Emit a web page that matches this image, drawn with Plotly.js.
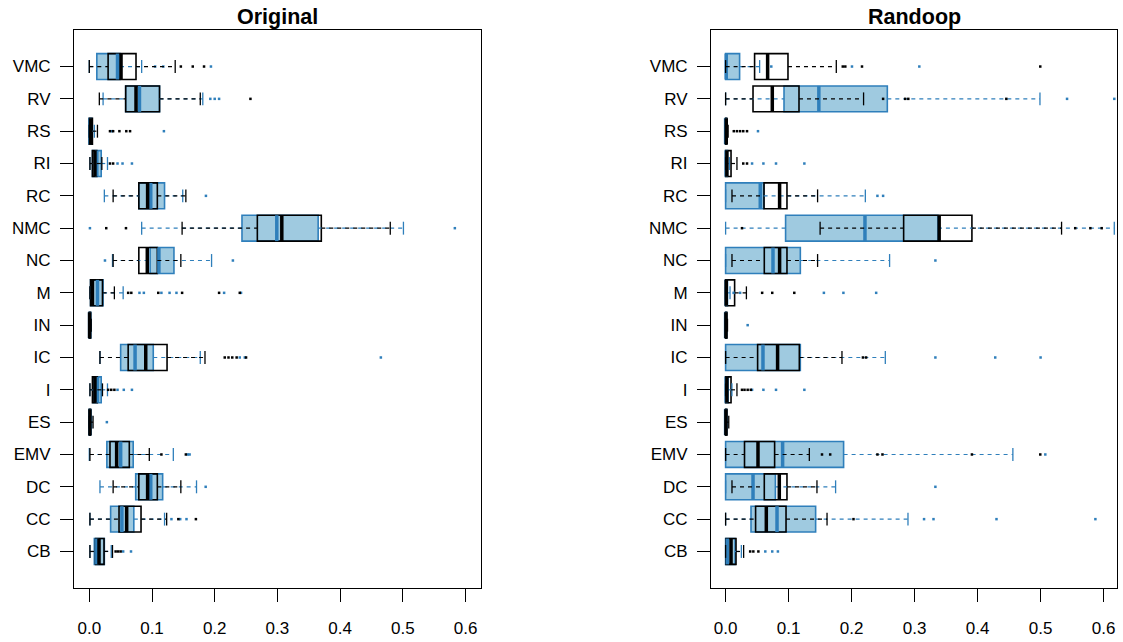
<!DOCTYPE html>
<html><head><meta charset="utf-8">
<script src="https://cdn.plot.ly/plotly-3.0.1.min.js"></script>
<style>html,body{margin:0;padding:0;background:#fff}</style>
</head><body><div id="chart" style="width:1123px;height:642px"></div>
<script>
// Categories, bottom to top
const categories = ["CB","CC","DC","EMV","ES","I","IC","IN","M","NC","NMC","RC","RI","RS","RV","VMC"];
const xTickVals = [0,0.1,0.2,0.3,0.4,0.5,0.6];
const xTickText = ["0.0","0.1","0.2","0.3","0.4","0.5","0.6"];
const panelTitles = ["Original","Randoop"];

// ---------- Original: blue group ----------
const origBlueLo  = [0.001,0.001,0.017,0.000,0.000,0.001,0.017,0.000,0.001,0.037,0.0835,0.024,0.001,0.000,0.022,0.000];
const origBlueQ1  = [0.008,0.034,0.074,0.028,0.000,0.006,0.050,0.000,0.002,0.097,0.2435,0.079,0.005,0.000,0.058,0.012];
const origBlueMed = [0.012,0.052,0.098,0.050,0.001,0.013,0.073,0.0005,0.013,0.111,0.299,0.098,0.012,0.001,0.080,0.045];
const origBlueQ3  = [0.024,0.071,0.117,0.070,0.002,0.019,0.102,0.002,0.022,0.135,0.365,0.120,0.019,0.004,0.112,0.049];
const origBlueHi  = [0.035,0.120,0.171,0.134,0.004,0.029,0.177,0.003,0.054,0.195,0.501,0.149,0.029,0.008,0.181,0.0835];
const origBlueOut = [[0.054,0.0665],[0.131,0.145,0.155],[0.1856],[0.157,0.160],[0.028],[0.045,0.055,0.068],[0.240,0.248,0.465],[],
  [0.080,0.087,0.115,0.128,0.139,0.215,0.242],[0.025,0.229],[0.001,0.583],[0.186],[0.045,0.053,0.068],[0.036,0.119],[0.193,0.200,0.207],[0.105,0.118,0.194]];

// ---------- Original: black group ----------
const origBlackLo  = [0.001,0.001,0.038,0.001,0.000,0.001,0.017,0.000,0.001,0.038,0.148,0.038,0.001,0.000,0.016,0.000];
const origBlackQ1  = [0.010,0.0474,0.079,0.033,0.000,0.005,0.062,0.000,0.002,0.079,0.268,0.079,0.005,0.000,0.058,0.030];
const origBlackMed = [0.0155,0.0596,0.093,0.0436,0.001,0.009,0.090,0.0005,0.005,0.0925,0.307,0.093,0.009,0.002,0.0745,0.0506];
const origBlackQ3  = [0.0235,0.0825,0.1085,0.0638,0.002,0.0128,0.124,0.002,0.021,0.1085,0.370,0.1085,0.012,0.005,0.112,0.0745];
const origBlackHi  = [0.037,0.1234,0.146,0.0957,0.006,0.021,0.1845,0.003,0.040,0.146,0.480,0.154,0.020,0.013,0.177,0.137];
const origBlackOut = [[0.042,0.046,0.050],[0.142,0.170],[],[0.115,0.154],[],[0.030,0.035,0.040],[0.216,0.222,0.228,0.235,0.250],[],
  [0.062,0.067,0.110,0.148,0.207,0.240],[],[0.027,0.0585],[],[0.033,0.038],[0.033,0.038,0.048,0.059,0.065],[0.257],[0.146,0.165,0.183]];

// ---------- Randoop: blue group ----------
const randBlueLo  = [0,0,0,0,0,0,0,0,0,0,0,0,0,0,0,0];
const randBlueQ1  = [0.000,0.0403,0.000,0.000,0.000,0.000,0.000,0.000,0.000,0.000,0.0952,0.000,0.000,0.000,0.0927,0.000];
const randBlueMed = [0.0027,0.0816,0.0435,0.0905,0.000,0.001,0.0593,0.000,0.001,0.0752,0.2212,0.055,0.001,0.000,0.148,0.001];
const randBlueQ3  = [0.015,0.1429,0.079,0.1873,0.001,0.004,0.1186,0.001,0.003,0.1186,0.337,0.0603,0.003,0.001,0.2567,0.0222];
const randBlueHi  = [0.025,0.2895,0.1746,0.456,0.002,0.010,0.2535,0.002,0.007,0.2603,0.617,0.2218,0.006,0.002,0.499,0.054];
const randBlueOut = [[0.063,0.074,0.083],[0.315,0.330,0.430,0.587],[0.333],[0.5075],[],[0.042,0.060,0.080,0.125],[0.333,0.428,0.500],[0.035],
  [0.0127,0.023,0.156,0.187,0.239],[0.333],[],[0.241,0.250],[0.042,0.060,0.080,0.125],[0.0514],[0.542,0.617],[0.0725,0.2006,0.3075]];

// ---------- Randoop: black group ----------
const randBlackLo  = [0.000,0.000,0.0101,0.000,0,0,0,0,0,0.0101,0.150,0.0101,0,0,0,0];
const randBlackQ1  = [0.0006,0.0476,0.0614,0.030,0.000,0.000,0.0508,0.000,0.000,0.0614,0.2826,0.061,0.000,0.000,0.0435,0.046];
const randBlackMed = [0.0086,0.0646,0.0852,0.0514,0.0005,0.002,0.0825,0.0005,0.001,0.0857,0.339,0.0857,0.002,0.001,0.0741,0.0667];
const randBlackQ3  = [0.0165,0.0959,0.0974,0.0778,0.002,0.0086,0.117,0.002,0.0143,0.0974,0.391,0.0974,0.0086,0.002,0.1165,0.099];
const randBlackHi  = [0.0286,0.161,0.145,0.1329,0.005,0.018,0.1847,0.003,0.033,0.146,0.5333,0.146,0.018,0.004,0.219,0.1757];
const randBlackOut = [[0.039,0.044,0.052],[0.203],[],[0.153,0.166,0.241,0.249,0.391,0.4995],[],[0.026,0.030,0.035,0.040],[0.218,0.223],[],
  [0.058,0.074,0.109],[],[0.026,0.555,0.579,0.597],[],[0.028,0.034],[0.013,0.018,0.023,0.028,0.034],[0.250,0.285,0.290,0.4456],[0.186,0.190,0.2165,0.4995]];

// ---------- styling ----------
const BLUE = "#2f7fbb";
const BLUE_FILL = "#9fcae0";
const BLACK = "#000000";
const pos = categories.map((c,i)=>i+1);
const BOXW = 0.8, CAPH = 0.2;

function seriesTraces(xa, ya, s, color, fill, name){
  const tr = [];
  // box body
  tr.push({type:"box", orientation:"h", name:name, y:pos, q1:s.q1, median:s.med, q3:s.q3,
    lowerfence:s.q1, upperfence:s.q3, width:BOXW, whiskerwidth:0, boxpoints:false,
    fillcolor:fill, line:{color:color,width:1.6}, xaxis:xa, yaxis:ya, hoverinfo:"skip", showlegend:false});
  // whiskers (dashed)
  const wx=[], wy=[];
  pos.forEach((p,i)=>{
    if (s.lo[i] < s.q1[i]) { wx.push(s.lo[i], s.q1[i], null); wy.push(p,p,null); }
    if (s.hi[i] > s.q3[i]) { wx.push(s.q3[i], s.hi[i], null); wy.push(p,p,null); }
  });
  tr.push({type:"scatter", mode:"lines", x:wx, y:wy, xaxis:xa, yaxis:ya, line:{color:color,width:1.2,dash:"4px,4px"}, hoverinfo:"skip", showlegend:false});
  // staples
  const cx=[], cy=[];
  pos.forEach((p,i)=>{
    cx.push(s.lo[i], s.lo[i], null, s.hi[i], s.hi[i], null);
    cy.push(p-CAPH, p+CAPH, null, p-CAPH, p+CAPH, null);
  });
  tr.push({type:"scatter", mode:"lines", x:cx, y:cy, xaxis:xa, yaxis:ya, line:{color:color,width:1.3}, hoverinfo:"skip", showlegend:false});
  // medians (thick)
  const mx=[], my=[];
  pos.forEach((p,i)=>{ mx.push(s.med[i], s.med[i], null); my.push(p-BOXW/2, p+BOXW/2, null); });
  tr.push({type:"scatter", mode:"lines", x:mx, y:my, xaxis:xa, yaxis:ya, line:{color:color,width:3.5}, hoverinfo:"skip", showlegend:false});
  // outliers
  const ox=[], oy=[];
  pos.forEach((p,i)=>{ s.out[i].forEach(v=>{ ox.push(v); oy.push(p); }); });
  tr.push({type:"scatter", mode:"markers", x:ox, y:oy, xaxis:xa, yaxis:ya, marker:{color:color,size:2.5,symbol:"square",line:{width:0}}, hoverinfo:"skip", showlegend:false});
  return tr;
}

const panels = [
  {xa:"x", ya:"y",
   blue:{lo:origBlueLo,q1:origBlueQ1,med:origBlueMed,q3:origBlueQ3,hi:origBlueHi,out:origBlueOut},
   black:{lo:origBlackLo,q1:origBlackQ1,med:origBlackMed,q3:origBlackQ3,hi:origBlackHi,out:origBlackOut}},
  {xa:"x2", ya:"y2",
   blue:{lo:randBlueLo,q1:randBlueQ1,med:randBlueMed,q3:randBlueQ3,hi:randBlueHi,out:randBlueOut},
   black:{lo:randBlackLo,q1:randBlackQ1,med:randBlackMed,q3:randBlackQ3,hi:randBlackHi,out:randBlackOut}}
];

let traces = [];
panels.forEach(pn=>{
  traces = traces.concat(seriesTraces(pn.xa, pn.ya, pn.blue, BLUE, BLUE_FILL, "blue group"));
  traces = traces.concat(seriesTraces(pn.xa, pn.ya, pn.black, BLACK, "rgba(0,0,0,0)", "black group"));
});

const W=1123, H=642;
const yDom = [1-588/H, 1-30/H];
const FONT = "Liberation Sans, Arial, Helvetica, sans-serif";
function xAxis(dom, range, anchor){
  return {domain:dom, range:range, anchor:anchor, tickvals:xTickVals, ticktext:xTickText,
    ticks:"outside", ticklen:13, tickwidth:1, tickcolor:"#000", showline:true, mirror:true,
    linecolor:"#000", linewidth:1, showgrid:false, zeroline:false, ticklabelstandoff:12,
    tickfont:{family:FONT,size:17,color:"#000"}, fixedrange:true};
}
function yAxis(anchor){
  return {domain:yDom, range:[-0.13,17.13], anchor:anchor, tickvals:pos, ticktext:categories,
    ticks:"outside", ticklen:13, tickwidth:1, tickcolor:"#000", showline:true, mirror:true,
    linecolor:"#000", linewidth:1, showgrid:false, zeroline:false, ticklabelstandoff:6,
    tickfont:{family:FONT,size:17,color:"#000"}, fixedrange:true};
}
const layout = {
  width:W, height:H, margin:{l:0,r:0,t:0,b:0}, paper_bgcolor:"#fff", plot_bgcolor:"#fff",
  boxmode:"overlay", showlegend:false,
  xaxis: xAxis([74/W,481/W],[-0.0244,0.6247],"y"),
  yaxis: yAxis("x"),
  xaxis2: xAxis([711/W,1117/W],[-0.0232,0.6213],"y2"),
  yaxis2: yAxis("x2"),
  annotations: panelTitles.map((t,i)=>({text:"<b>"+t+"</b>", xref:(i?"x2":"x")+" domain", yref:"paper",
    x:0.5, y:1-17/H, xanchor:"center", yanchor:"middle", showarrow:false,
    font:{family:FONT,size:21.5,color:"#000"}}))
};
Plotly.newPlot("chart", traces, layout, {staticPlot:true, displayModeBar:false});
</script>
</body></html>
